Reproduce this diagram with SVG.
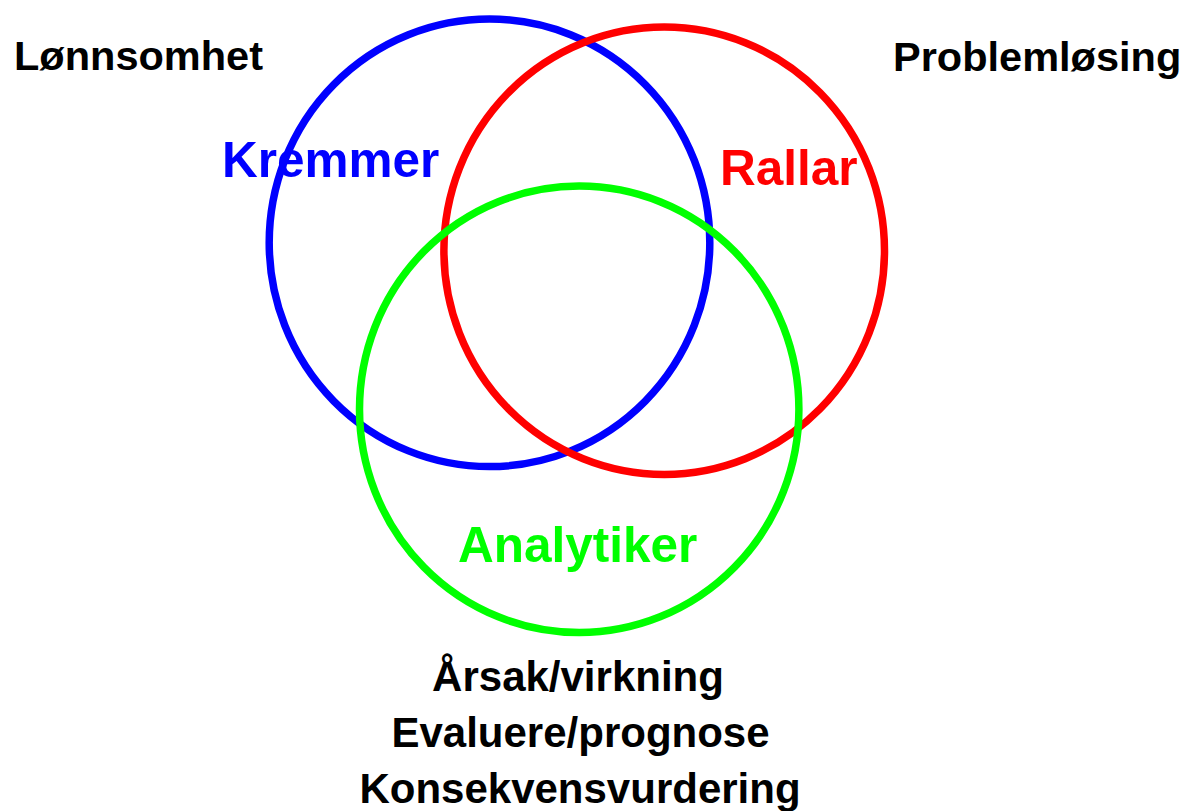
<svg xmlns="http://www.w3.org/2000/svg" width="1184" height="811" viewBox="0 0 1184 811">
  <style>
    .ring { fill: none; stroke-width: 7.5; }
    .lbl { font-family: "Liberation Sans", Arial, sans-serif; font-weight: bold; }
    .blk { font-size: 41.5px; fill: #000; }
    .sub { font-size: 42px; fill: #000; }
    .col { font-size: 49.5px; }
  </style>
  <rect width="1184" height="811" fill="#fff"/>
  <g id="kremmer">
    <ellipse class="ring" cx="489.5" cy="242.8" rx="220.3" ry="223.8" stroke="#0000ff"/>
    <text class="lbl col" x="222" y="177" fill="#0000ff" font-size="50">Kremmer</text>
  </g>
  <g id="rallar">
    <ellipse class="ring" cx="664.2" cy="250.7" rx="220.3" ry="223.7" stroke="#ff0000"/>
    <text class="lbl col" x="720" y="185" fill="#ff0000" font-size="48">Rallar</text>
  </g>
  <g id="analytiker">
    <ellipse class="ring" cx="579.2" cy="409.3" rx="219.7" ry="223.2" stroke="#00ff00"/>
    <text class="lbl col" x="458" y="561.7" fill="#00ff00">Analytiker</text>
  </g>
  <g id="lonnsomhet">
    <text class="lbl blk" x="14" y="69.5">Lønnsomhet</text>
  </g>
  <g id="problemlosing">
    <text class="lbl blk" x="893" y="70.5" font-size="40.6">Problemløsing</text>
  </g>
  <g id="analytiker-egenskaper">
    <text class="lbl sub" x="578" y="691" text-anchor="middle">Årsak/virkning</text>
    <text class="lbl sub" x="580.5" y="746.5" text-anchor="middle">Evaluere/prognose</text>
    <text class="lbl sub" x="580" y="803" text-anchor="middle">Konsekvensvurdering</text>
  </g>
  <g id="connectors"></g>
</svg>
